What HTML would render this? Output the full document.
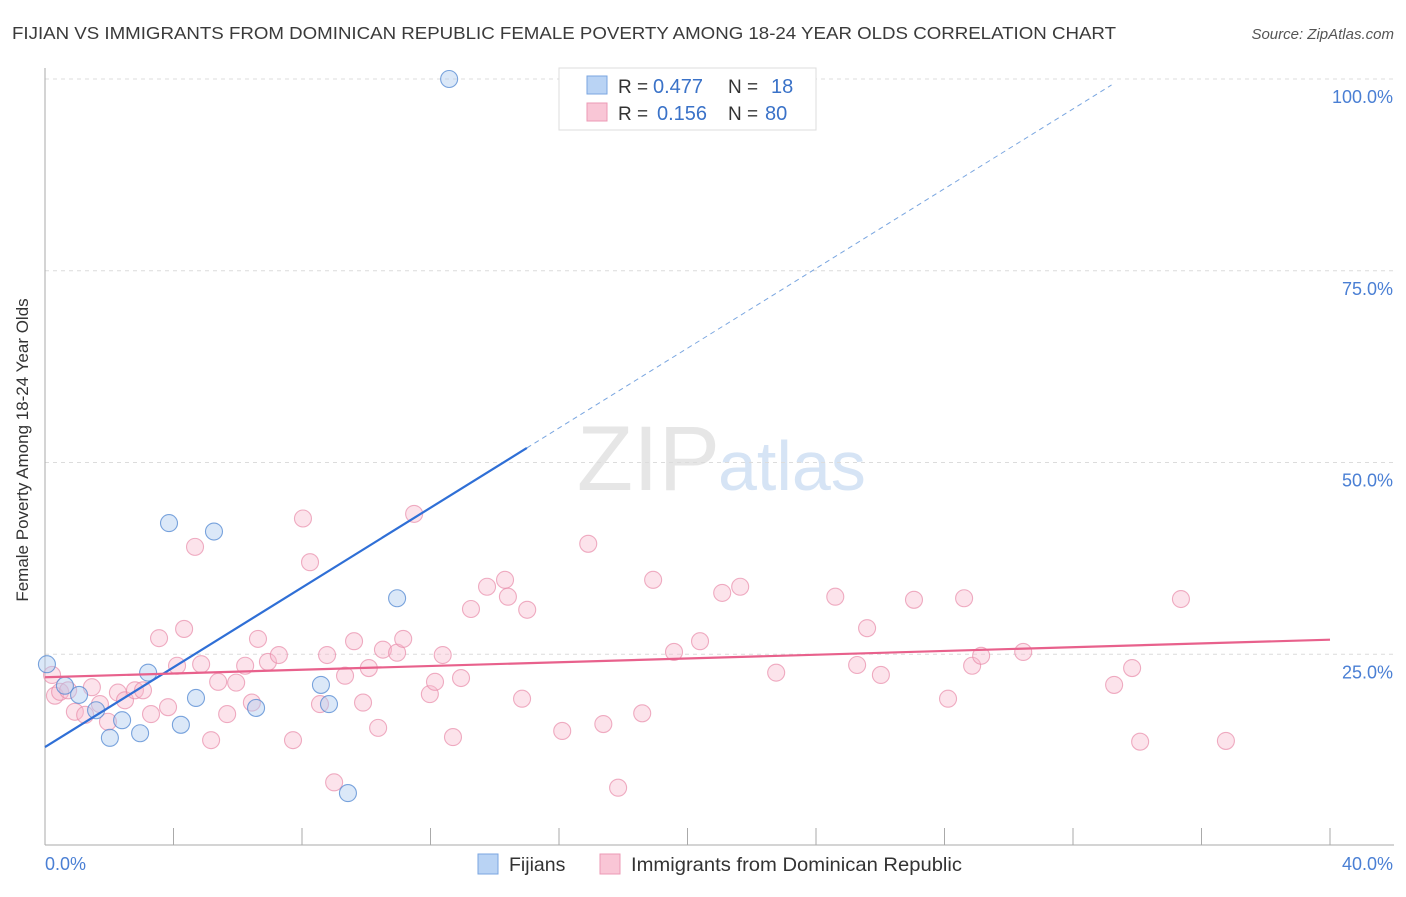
<!DOCTYPE html>
<html><head><meta charset="utf-8"><style>
body{margin:0;background:#fff;font-family:"Liberation Sans",sans-serif;}
svg text{font-family:"Liberation Sans",sans-serif;}
</style></head><body>
<svg width="1406" height="892" viewBox="0 0 1406 892">
<text x="12" y="39" font-size="17.5" fill="#3a3a3a" textLength="1104" lengthAdjust="spacingAndGlyphs">FIJIAN VS IMMIGRANTS FROM DOMINICAN REPUBLIC FEMALE POVERTY AMONG 18-24 YEAR OLDS CORRELATION CHART</text>
<text x="1394" y="39" font-size="15" fill="#555" text-anchor="end" font-style="italic">Source: ZipAtlas.com</text>
<text x="720" y="490" font-size="92" fill="#e6e6e6" text-anchor="end" font-family="Liberation Serif">ZIP</text>
<text x="718" y="490" font-size="70" fill="#d6e4f5">atlas</text>
<g id="grid"></g><g id="axes"></g><g id="marks"></g>
<text x="34" y="456" font-size="17" fill="#333" text-anchor="middle" transform="rotate(-90 28 456)">Female Poverty Among 18-24 Year Olds</text>
<text x="45" y="870" font-size="18" fill="#4a7fd4">0.0%</text>
<text x="1393" y="870" font-size="18" fill="#4a7fd4" text-anchor="end">40.0%</text>
<g>
<rect x="559" y="68" width="257" height="62" fill="#fff" stroke="#ddd"/>
<rect x="587" y="76" width="20" height="18" fill="#b9d3f4" stroke="#7aa6e0"/>
<rect x="587" y="103" width="20" height="18" fill="#f9c6d6" stroke="#ec9ab5"/>
<text x="618" y="93" font-size="19" fill="#333">R =</text>
<text x="653" y="93" font-size="20" fill="#3a72c8">0.477</text>
<text x="728" y="93" font-size="19" fill="#333">N =</text>
<text x="771" y="93" font-size="20" fill="#3a72c8">18</text>
<text x="618" y="120" font-size="19" fill="#333">R =</text>
<text x="657" y="120" font-size="20" fill="#3a72c8">0.156</text>
<text x="728" y="120" font-size="19" fill="#333">N =</text>
<text x="765" y="120" font-size="20" fill="#3a72c8">80</text>
</g>
<g>
<rect x="478" y="854" width="20" height="20" fill="#b9d3f4" stroke="#7aa6e0"/>
<text x="509" y="871" font-size="19.5" fill="#333">Fijians</text>
<rect x="600" y="854" width="20" height="20" fill="#f9c6d6" stroke="#ec9ab5"/>
<text x="631" y="871" font-size="19.5" fill="#333" textLength="331" lengthAdjust="spacingAndGlyphs">Immigrants from Dominican Republic</text>
</g>
</svg>
<script>
const yTicks=[25,50,75,100];
const yTickLabels=["25.0%","50.0%","75.0%","100.0%"];
const xTicks=[0,4,8,12,16,20,24,28,32,36,40];
const fijX=[0.06,0.62,1.06,1.59,2.02,2.40,2.96,3.21,3.86,4.23,4.70,5.26,6.57,8.59,8.84,9.43,10.96,12.58];
const fijY=[23.7,20.9,19.7,17.7,14.1,16.4,14.7,22.6,42.1,15.8,19.3,41.0,18.0,21.0,18.5,6.9,32.3,100.0];
const domX=[0.22,0.31,0.47,0.72,0.93,1.25,1.46,1.71,1.96,2.27,2.49,2.80,3.05,3.30,3.55,3.83,4.11,4.33,4.67,4.86,5.17,5.39,5.67,5.95,6.23,6.44,6.63,6.94,7.28,7.72,8.03,8.25,8.56,8.78,9.0,9.34,9.62,9.90,10.08,10.37,10.52,10.96,11.15,11.49,11.98,12.14,12.38,12.70,12.95,13.26,13.76,14.32,14.41,14.85,15.01,16.10,16.91,17.38,17.84,18.59,18.93,19.58,20.39,21.08,21.64,22.76,24.60,25.28,25.59,26.02,27.05,28.11,28.61,28.86,29.14,30.45,33.28,33.84,34.09,35.36,36.76];
const domY=[22.3,19.6,20.1,20.3,17.5,17.1,20.7,18.5,16.2,20.0,19.0,20.3,20.3,17.2,27.1,18.1,23.5,28.3,39.0,23.7,13.8,21.4,17.2,21.3,23.5,18.7,27.0,24.0,24.9,13.8,42.7,37.0,18.5,24.9,8.3,22.2,26.7,18.7,23.2,15.4,25.6,25.2,27.0,43.3,19.8,21.4,24.9,14.2,21.9,30.9,33.8,34.7,32.5,19.2,30.8,15.0,39.4,15.9,7.6,17.3,34.7,25.3,26.7,33.0,33.8,22.6,32.5,23.6,28.4,22.3,32.1,19.2,32.3,23.5,24.8,25.3,21.0,23.2,13.6,32.2,13.7];
const fijTrend=[12.9,2.6]; // intercept, slope
const domTrend=[22.0,0.1225];
const X0=45,X1=1330,Y0=846,Y100=79;
const sx=v=>X0+(v/40)*(X1-X0);
const sy=v=>Y0-(v/100)*(Y0-Y100);
const NS="http://www.w3.org/2000/svg";
function mk(tag,attrs,parent){const e=document.createElementNS(NS,tag);for(const k in attrs)e.setAttribute(k,attrs[k]);document.getElementById(parent).appendChild(e);return e;}
yTicks.forEach((t,i)=>{
 const g=mk('line',{x1:X0,x2:1394,y1:sy(t),y2:sy(t),stroke:'#dcdcdc','stroke-dasharray':'4,4'},'grid');
 
 
 const l=mk('text',{x:1393,y:sy(t)+24,'font-size':18,fill:'#4a7fd4','text-anchor':'end'},'grid');
 l.textContent=yTickLabels[i];
 
 
});
const ya=mk('line',{x1:X0,x2:X0,y1:68,y2:845,stroke:'#aaa'},'axes');


const xa=mk('line',{x1:X0,x2:1394,y1:845,y2:845,stroke:'#aaa'},'axes');


xTicks.forEach(t=>{
 const k=mk('line',{x1:sx(t),x2:sx(t),y1:828,y2:845,stroke:'#aaa'},'axes');
 
 
});
domX.forEach((x,i)=>{
 const c=mk('circle',{cx:sx(x),cy:sy(domY[i]),r:8.5,fill:'rgba(248,185,205,0.4)',stroke:'rgba(232,140,170,0.7)','stroke-width':1.1},'marks');
 
 
});
fijX.forEach((x,i)=>{
 const c=mk('circle',{cx:sx(x),cy:sy(fijY[i]),r:8.5,fill:'rgba(175,205,240,0.45)',stroke:'rgba(80,135,210,0.75)','stroke-width':1.1},'marks');
 
 
});
const f=x=>fijTrend[0]+fijTrend[1]*x;
const d=x=>domTrend[0]+domTrend[1]*x;
const t1=mk('line',{x1:sx(0),y1:sy(f(0)),x2:sx(15),y2:sy(f(15)),stroke:'#2f6fd6','stroke-width':2.2},'marks');


const t2=mk('line',{x1:sx(15),y1:sy(f(15)),x2:sx(33.2),y2:sy(f(33.2)),stroke:'#7aa6e0','stroke-width':1,'stroke-dasharray':'5,4'},'marks');


const t3=mk('line',{x1:sx(0),y1:sy(d(0)),x2:sx(40),y2:sy(d(40)),stroke:'#e8618c','stroke-width':2.2},'marks');


</script>
</body></html>
